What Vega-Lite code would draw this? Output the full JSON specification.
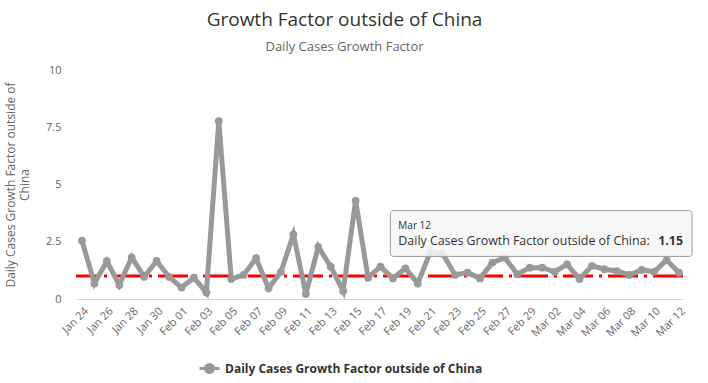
{
  "$schema": "https://vega.github.io/schema/vega-lite/v6.json",
  "width": 607,
  "height": 229,
  "autosize": "none",
  "padding": {"left": 76, "top": 70, "right": 25, "bottom": 84},
  "background": "#ffffff",
  "title": {
    "text": "Growth Factor outside of China",
    "subtitle": "Daily Cases Growth Factor",
    "anchor": "middle",
    "frame": "bounds",
    "dx": -4,
    "font": "Open Sans",
    "fontSize": 19,
    "fontWeight": "normal",
    "color": "#333333",
    "subtitleFont": "Open Sans",
    "subtitleFontSize": 13,
    "subtitleColor": "#666666",
    "subtitlePadding": 11,
    "offset": 10
  },
  "config": {
    "view": {"stroke": null},
    "font": "Open Sans"
  },
  "datasets": {
    "growth": [
      {"date": "Jan 24", "factor": 2.55},
      {"date": "Jan 25", "factor": 0.68},
      {"date": "Jan 26", "factor": 1.65},
      {"date": "Jan 27", "factor": 0.61},
      {"date": "Jan 28", "factor": 1.82},
      {"date": "Jan 29", "factor": 0.97},
      {"date": "Jan 30", "factor": 1.66},
      {"date": "Jan 31", "factor": 0.97},
      {"date": "Feb 01", "factor": 0.5},
      {"date": "Feb 02", "factor": 0.93},
      {"date": "Feb 03", "factor": 0.28},
      {"date": "Feb 04", "factor": 7.77},
      {"date": "Feb 05", "factor": 0.87},
      {"date": "Feb 06", "factor": 1.05},
      {"date": "Feb 07", "factor": 1.78},
      {"date": "Feb 08", "factor": 0.47},
      {"date": "Feb 09", "factor": 1.19},
      {"date": "Feb 10", "factor": 2.82},
      {"date": "Feb 11", "factor": 0.22},
      {"date": "Feb 12", "factor": 2.28},
      {"date": "Feb 13", "factor": 1.41},
      {"date": "Feb 14", "factor": 0.35},
      {"date": "Feb 15", "factor": 4.29},
      {"date": "Feb 16", "factor": 0.93},
      {"date": "Feb 17", "factor": 1.41},
      {"date": "Feb 18", "factor": 0.9},
      {"date": "Feb 19", "factor": 1.34},
      {"date": "Feb 20", "factor": 0.68},
      {"date": "Feb 21", "factor": 2.05},
      {"date": "Feb 22", "factor": 1.98},
      {"date": "Feb 23", "factor": 1.05},
      {"date": "Feb 24", "factor": 1.15},
      {"date": "Feb 25", "factor": 0.9},
      {"date": "Feb 26", "factor": 1.59},
      {"date": "Feb 27", "factor": 1.8},
      {"date": "Feb 28", "factor": 1.08},
      {"date": "Feb 29", "factor": 1.37},
      {"date": "Mar 01", "factor": 1.37},
      {"date": "Mar 02", "factor": 1.19},
      {"date": "Mar 03", "factor": 1.51},
      {"date": "Mar 04", "factor": 0.87},
      {"date": "Mar 05", "factor": 1.45},
      {"date": "Mar 06", "factor": 1.3},
      {"date": "Mar 07", "factor": 1.22},
      {"date": "Mar 08", "factor": 1.05},
      {"date": "Mar 09", "factor": 1.27},
      {"date": "Mar 10", "factor": 1.19},
      {"date": "Mar 11", "factor": 1.7},
      {"date": "Mar 12", "factor": 1.15}
    ],
    "single": [{}]
  },
  "layer": [
    {
      "data": {"name": "single"},
      "mark": {"type": "rule", "color": "#ff0000", "strokeWidth": 3, "strokeDash": [30, 6, 3, 6]},
      "encoding": {"y": {"datum": 1, "type": "quantitative"}}
    },
    {
      "data": {"name": "growth"},
      "mark": {"type": "line", "strokeWidth": 5, "point": {"filled": true, "size": 60}},
      "encoding": {
        "x": {
          "field": "date",
          "type": "ordinal",
          "sort": null,
          "scale": {"type": "point", "padding": 0.4, "align": 0.6},
          "axis": {
            "title": null,
            "values": ["Jan 24","Jan 26","Jan 28","Jan 30","Feb 01","Feb 03","Feb 05","Feb 07","Feb 09","Feb 11","Feb 13","Feb 15","Feb 17","Feb 19","Feb 21","Feb 23","Feb 25","Feb 27","Feb 29","Mar 02","Mar 04","Mar 06","Mar 08","Mar 10","Mar 12"],
            "labelAngle": -45,
            "labelFont": "Open Sans",
            "labelFontSize": 11,
            "labelColor": "#666666",
            "labelPadding": 6,
            "ticks": false,
            "grid": false,
            "domainColor": "#ccd6eb",
            "domainWidth": 1
          }
        },
        "y": {
          "field": "factor",
          "type": "quantitative",
          "scale": {"domain": [0, 10], "nice": false},
          "axis": {
            "title": ["Daily Cases Growth Factor outside of", "China"],
            "titleFont": "Open Sans",
            "titleFontSize": 12,
            "titleFontWeight": "normal",
            "titleColor": "#666666",
            "titlePadding": 14,
            "values": [0, 2.5, 5, 7.5, 10],
            "labelExpr": "format(datum.value, '.1~f')",
            "labelFont": "Open Sans",
            "labelFontSize": 11,
            "labelColor": "#666666",
            "labelPadding": 15,
            "ticks": false,
            "domain": false,
            "gridColor": "#e6e6e6",
            "gridWidth": 1
          }
        },
        "color": {
          "datum": "Daily Cases Growth Factor outside of China",
          "scale": {"range": ["#999999"]},
          "legend": {
            "title": null,
            "orient": "none",
            "legendX": 122,
            "legendY": 287,
            "labelFont": "Open Sans",
            "labelFontSize": 12,
            "labelFontWeight": "bold",
            "labelColor": "#333333",
            "labelLimit": 400,
            "symbolType": "M -1 0 L 1 0 M -0.4 0 A 0.4 0.4 0 1 1 0.4 0 A 0.4 0.4 0 1 1 -0.4 0 Z",
            "symbolSize": 400,
            "symbolStrokeWidth": 3,
            "labelOffset": 4,
            "encode": {"symbols": {"update": {"fill": {"value": "#999999"}, "stroke": {"value": "#999999"}}}}
          }
        }
      }
    },
    {
      "data": {"name": "single"},
      "mark": {"type": "rect", "fill": "#f7f7f7", "fillOpacity": 0.85, "stroke": "#999999", "strokeWidth": 1, "cornerRadius": 3, "xOffset": -15, "x2Offset": 13},
      "encoding": {
        "x": {"datum": "Feb 19", "type": "ordinal"},
        "x2": {"datum": "Mar 12"},
        "y": {"datum": 3.86, "type": "quantitative"},
        "y2": {"datum": 1.86}
      }
    },
    {
      "data": {"name": "single"},
      "mark": {"type": "text", "align": "left", "baseline": "middle", "dx": -7, "font": "Open Sans", "fontSize": 10, "color": "#333333"},
      "encoding": {
        "x": {"datum": "Feb 19", "type": "ordinal"},
        "y": {"datum": 3.19, "type": "quantitative"},
        "text": {"value": "Mar 12"}
      }
    },
    {
      "data": {"name": "single"},
      "mark": {"type": "text", "align": "left", "baseline": "middle", "dx": -7, "font": "Open Sans", "fontSize": 12.4, "color": "#333333"},
      "encoding": {
        "x": {"datum": "Feb 19", "type": "ordinal"},
        "y": {"datum": 2.53, "type": "quantitative"},
        "text": {"value": "Daily Cases Growth Factor outside of China:"}
      }
    },
    {
      "data": {"name": "single"},
      "mark": {"type": "text", "align": "right", "baseline": "middle", "dx": 4, "font": "Open Sans", "fontSize": 12.4, "fontWeight": "bold", "color": "#333333"},
      "encoding": {
        "x": {"datum": "Mar 12", "type": "ordinal"},
        "y": {"datum": 2.53, "type": "quantitative"},
        "text": {"value": "1.15"}
      }
    }
  ]
}
